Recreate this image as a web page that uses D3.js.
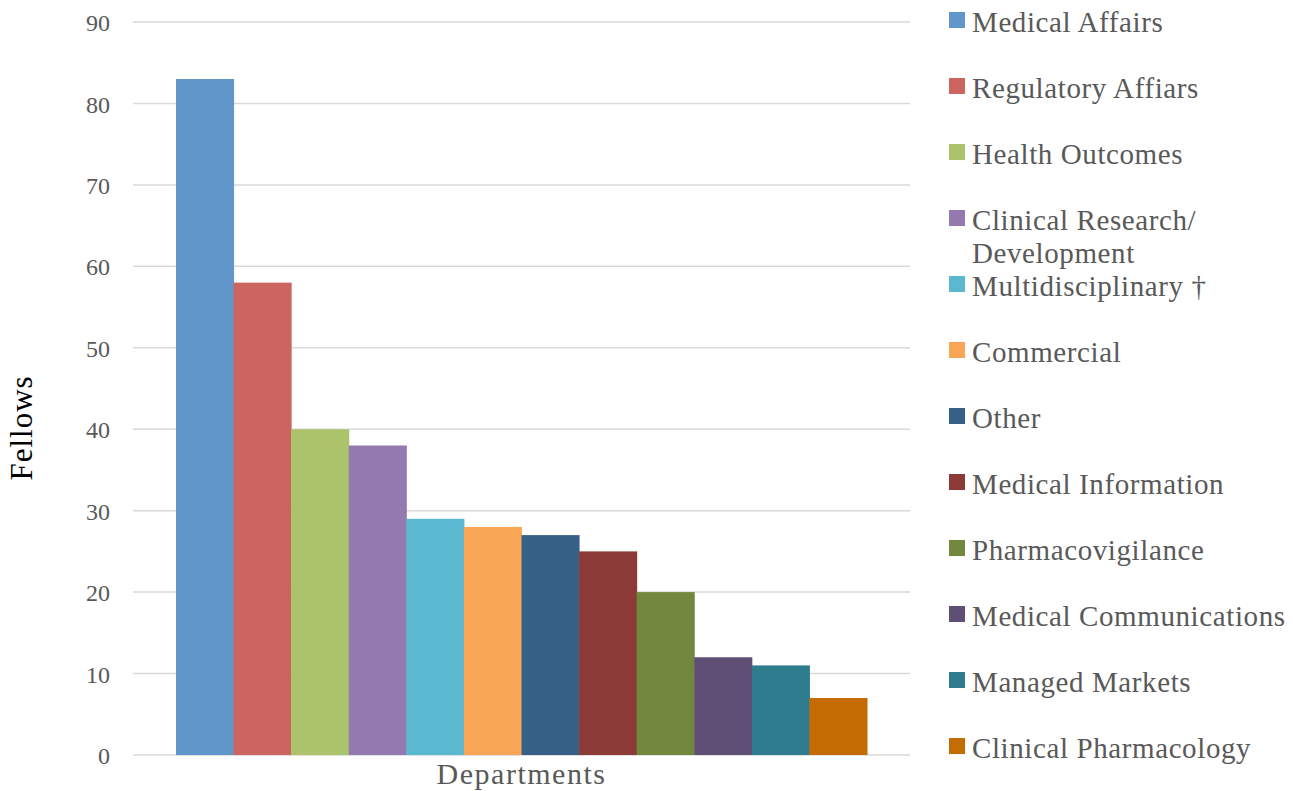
<!DOCTYPE html>
<html>
<head>
<meta charset="utf-8">
<script src="https://cdn.jsdelivr.net/npm/d3@7"></script>
<style>
  html, body { margin: 0; padding: 0; background: #fff; }
  svg { display: block; }
  text { font-family: "Liberation Serif", "Times New Roman", serif; }
</style>
</head>
<body>
<svg id="chart" width="1293" height="791"></svg>
<script>
// Fellows by department
const departments = [
  "Medical Affairs", "Regulatory Affiars", "Health Outcomes",
  "Clinical Research/ Development", "Multidisciplinary \u2020", "Commercial",
  "Other", "Medical Information", "Pharmacovigilance",
  "Medical Communications", "Managed Markets", "Clinical Pharmacology"
];
const fellows = [83, 58, 40, 38, 29, 28, 27, 25, 20, 12, 11, 7];
const colors = [
  "#6096c9", "#cc655f", "#abc46b", "#9379af", "#5bb8d1", "#f8a656",
  "#376087", "#8c3a37", "#71883e", "#604f74", "#2e7c8e", "#c46b02"
];
const legendLines = [
  ["Medical Affairs"], ["Regulatory Affiars"], ["Health Outcomes"],
  ["Clinical Research/", "Development"], ["Multidisciplinary \u2020"], ["Commercial"],
  ["Other"], ["Medical Information"], ["Pharmacovigilance"],
  ["Medical Communications"], ["Managed Markets"], ["Clinical Pharmacology"]
];
const yTicks = [0, 10, 20, 30, 40, 50, 60, 70, 80, 90];

const svg = d3.select("#chart");
const plot = { left: 133, right: 910, top: 22, bottom: 755 };

const y = d3.scaleLinear().domain([0, 90]).range([plot.bottom, plot.top]);

// single category group holding one bar per department
const xGroup = d3.scaleBand().domain(["Departments"])
  .range([plot.left, plot.right]).paddingInner(0).paddingOuter(0.0622);
const xBar = d3.scaleBand().domain(departments)
  .range([xGroup("Departments"), xGroup("Departments") + xGroup.bandwidth()]);

// gridlines
svg.append("g").selectAll("line").data(yTicks).join("line")
  .attr("x1", plot.left).attr("x2", plot.right)
  .attr("y1", d => y(d)).attr("y2", d => y(d))
  .attr("stroke", "#d9d9d9").attr("stroke-width", 1.5);

// y axis labels
const yAxis = d3.axisLeft(y).tickValues(yTicks).tickSize(0).tickPadding(0);
const gy = svg.append("g").attr("transform", `translate(110,0)`).call(yAxis);
gy.select(".domain").remove();
gy.selectAll("text")
  .attr("fill", "#595959")
  .style("font-family", '"Liberation Serif", serif')
  .style("font-size", "24px")
  .attr("dy", "0.36em");

// bars
svg.append("g").selectAll("rect").data(departments).join("rect")
  .attr("x", d => xBar(d))
  .attr("width", xBar.bandwidth() + 0.5)
  .attr("y", (d, i) => y(fellows[i]))
  .attr("height", (d, i) => y(0) - y(fellows[i]))
  .attr("fill", (d, i) => colors[i]);

// axis titles
svg.append("text")
  .attr("transform", `translate(32,428) rotate(-90)`)
  .attr("text-anchor", "middle")
  .attr("fill", "#000")
  .style("font-size", "31px")
  .style("letter-spacing", "1px")
  .text("Fellows");

svg.append("text")
  .attr("x", xGroup("Departments") + xGroup.bandwidth() / 2)
  .attr("y", 784)
  .attr("text-anchor", "middle")
  .attr("fill", "#595959")
  .style("font-size", "30px")
  .style("letter-spacing", "1.5px")
  .text("Departments");

// legend
const legend = svg.append("g");
const legendY = i => 32 + i * 66;
const items = legend.selectAll("g").data(departments).join("g")
  .attr("transform", (d, i) => `translate(949,${legendY(i)})`);
items.append("rect")
  .attr("x", 0).attr("y", -20).attr("width", 16).attr("height", 16)
  .attr("fill", (d, i) => colors[i]);
items.append("text")
  .attr("x", 23).attr("y", 0)
  .attr("fill", "#595959")
  .style("font-size", "29px")
  .style("letter-spacing", "0.6px")
  .selectAll("tspan").data((d, i) => legendLines[i]).join("tspan")
  .attr("x", 23).attr("dy", (d, j) => j === 0 ? 0 : 33)
  .text(d => d);
</script>
</body>
</html>
